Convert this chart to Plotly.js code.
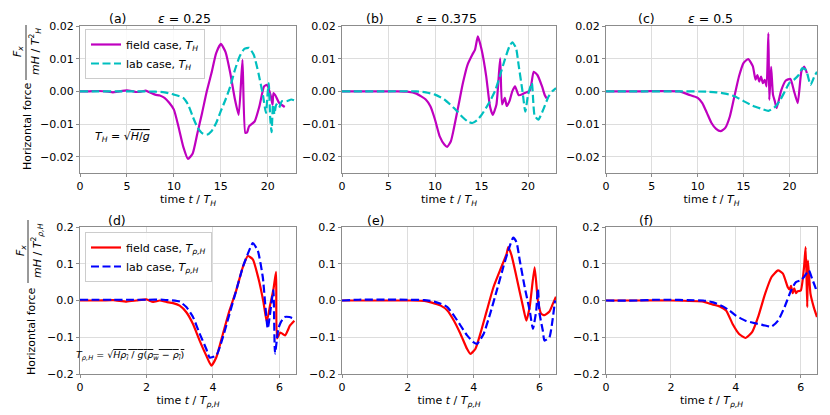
<!DOCTYPE html>
<html>
<head>
<meta charset="utf-8">
<script src="https://cdn.plot.ly/plotly-3.0.1.min.js"></script>
<style>html,body{margin:0;padding:0;background:#fff}#plot{width:830px;height:415px}</style>
</head>
<body>
<div id="plot"></div>
<script>
// ---------- data ----------
// (a) eps = 0.25, time in T_H
const tA_field = [0,1,2,3,3.5,4,5,5.5,6,6.5,7,7.5,8,8.5,9,9.5,10,10.5,11,11.5,12,12.5,13,13.5,14,14.5,15,15.5,16,16.5,16.9,17.3,17.6,17.8,18,18.6,19.1,19.6,19.9,20.3,20.5,20.6,20.8,21.2,21.8];
const fA_field = [0,0,0.0001,-0.0001,-0.0003,-0.0001,0.0003,0.0001,-0.0002,-0.0001,0.0002,-0.0004,-0.001,-0.0013,-0.002,-0.0035,-0.0056,-0.011,-0.017,-0.0207,-0.019,-0.0128,-0.0066,0.0,0.0056,0.0117,0.0145,0.012,0.0056,-0.0025,-0.0072,0.0096,-0.0127,-0.0125,-0.0107,-0.0092,-0.0046,0.0015,0.002,-0.0012,-0.0041,-0.0005,-0.0012,-0.0035,-0.0048];
const tA_lab = [0,2,4,6,8,9,10,11,11.5,12,12.5,13,13.5,14,14.5,15,15.5,16,16.5,17,17.5,18,18.5,19,19.5,19.8,20.0,20.1,20.25,20.4,20.55,20.7,20.9,21.2,21.5,22,22.5,23];
const fA_lab = [0,0,0,0,-0.0001,-0.0003,-0.001,-0.002,-0.004,-0.0077,-0.011,-0.0128,-0.0133,-0.0122,-0.0097,-0.006,-0.0025,0.0015,0.0066,0.0107,0.013,0.0133,0.0112,0.0056,-0.0015,-0.0066,0.0,0.0025,-0.008,-0.0125,-0.004,-0.007,-0.004,-0.005,-0.003,-0.003,-0.0025,-0.003];

// (b) eps = 0.375
const tB_field = [0,2,4,6,7,8,9,9.5,10,10.5,11,11.3,11.7,12,12.5,13,13.5,14,14.3,14.6,15,15.5,15.9,16.2,16.6,17.0,17.2,17.5,17.7,18.0,18.3,18.6,19,19.5,20.2,20.6,21,21.5,21.8,22];
const fB_field = [0,0,0,0,-0.0001,-0.0007,-0.0025,-0.0046,-0.0087,-0.0138,-0.0163,-0.017,-0.0153,-0.0117,-0.0046,0.0026,0.0082,0.0112,0.0128,0.0168,0.0128,0.0046,-0.0046,-0.0072,-0.004,0.0101,-0.004,-0.002,-0.0045,-0.003,0.0,0.0015,-0.0012,-0.0007,0.0003,0.006,0.005,0.0015,-0.0012,-0.0022];
const tB_lab = [0,4,8,9,10,11,12,13,13.5,14,14.5,15,15.5,16,16.5,17,17.5,18,18.3,18.7,19,19.4,19.7,20.0,20.4,20.7,21.1,21.6,22.2,22.6,23];
const fB_lab = [0,0,0,-0.0003,-0.001,-0.0025,-0.005,-0.008,-0.0092,-0.0097,-0.0089,-0.0072,-0.005,-0.0025,0.0005,0.005,0.0097,0.0138,0.015,0.0133,0.0077,0.0,-0.0062,-0.001,0.0025,-0.0074,-0.0087,-0.0058,-0.0016,0.0,0.001];

// (c) eps = 0.5
const tC_field = [0,4,8,9,10,10.5,11,11.5,12,12.5,13,13.5,14,14.5,15,15.5,16,16.3,16.5,16.7,16.9,17.1,17.3,17.5,17.7,17.8,18.0,18.2,18.4,18.6,19.1,19.6,20.1,20.5,20.9,21.3,21.6,21.9];
const fC_field = [0,0,0,-0.001,-0.002,-0.0036,-0.0066,-0.0097,-0.0115,-0.0122,-0.0112,-0.0077,-0.0015,0.0046,0.0087,0.0099,0.0077,0.0036,0.005,0.003,0.0045,0.0025,0.0035,0.0015,0.0178,-0.0026,0.0075,-0.001,-0.003,-0.0051,0.0003,0.0033,0.0038,0.0,-0.0036,0.0061,0.0076,0.0056];
const tC_lab = [0,4,8,11,12,13,14,15,16,17,17.7,18.5,19,19.5,20,20.5,21,21.4,21.8,22.3,22.7,23];
const fC_lab = [0,0,0,-0.0001,-0.0003,-0.0007,-0.0015,-0.003,-0.0044,-0.0054,-0.006,-0.0046,-0.0026,0.0,0.0026,0.0036,0.005,0.0071,0.0065,0.002,0.0045,0.006];

// (d) eps = 0.25, time in T_rho,H
const tD_field = [0,0.5,1,1.4,1.7,2.0,2.2,2.4,2.6,2.8,3.0,3.2,3.4,3.6,3.8,3.95,4.1,4.3,4.5,4.7,4.9,5.05,5.2,5.37,5.52,5.62,5.72,5.82,5.9,5.93,6.03,6.17,6.32,6.45];
const fD_field = [0,0,0.001,-0.003,0.0,0.003,-0.004,0.0,-0.004,-0.007,-0.014,-0.032,-0.064,-0.109,-0.15,-0.177,-0.155,-0.091,-0.027,0.027,0.091,0.121,0.112,0.06,-0.004,-0.058,-0.013,0.03,0.078,-0.103,-0.087,-0.095,-0.068,-0.055];
const tD_lab = [0,0.5,1,1.5,2,2.5,3.0,3.2,3.4,3.6,3.8,3.9,4.1,4.3,4.5,4.7,4.9,5.05,5.2,5.35,5.5,5.65,5.77,5.82,5.87,5.97,6.05,6.15,6.3,6.45];
const fD_lab = [0.002,0.002,0.002,0.002,0.002,0.002,-0.003,-0.018,-0.045,-0.09,-0.132,-0.155,-0.15,-0.1,-0.036,0.027,0.091,0.127,0.156,0.136,0.064,-0.076,0.0,0.028,-0.144,-0.076,-0.058,-0.045,-0.045,-0.05];

// (e) eps = 0.375
const tE_field = [0,1,2,2.5,2.7,3.0,3.2,3.4,3.6,3.8,3.9,4.05,4.2,4.4,4.6,4.8,5.0,5.05,5.15,5.3,5.5,5.6,5.7,5.85,5.95,6.05,6.15,6.3,6.4,6.5];
const fE_field = [0,0,0,-0.001,-0.005,-0.014,-0.027,-0.055,-0.091,-0.132,-0.145,-0.132,-0.091,-0.027,0.036,0.082,0.127,0.145,0.123,0.064,-0.018,-0.055,-0.018,0.09,0.0,-0.036,-0.04,-0.03,-0.01,0.01];
const tE_lab = [0,0.5,2,2.5,2.8,3.0,3.2,3.4,3.6,3.8,4.0,4.1,4.3,4.5,4.7,4.9,5.05,5.2,5.3,5.4,5.55,5.7,5.8,5.9,5.95,6.0,6.1,6.15,6.3,6.4,6.47];
const fE_lab = [0,0.002,0.002,0.001,-0.003,-0.009,-0.018,-0.041,-0.068,-0.095,-0.114,-0.118,-0.091,-0.036,0.027,0.091,0.136,0.171,0.159,0.109,0.036,-0.027,-0.077,-0.027,0.032,-0.036,-0.082,-0.109,-0.1,-0.05,0.0];

// (f) eps = 0.5
const tF_field = [0,1,2,3,3.2,3.5,3.7,3.9,4.1,4.3,4.5,4.7,4.9,5.1,5.3,5.45,5.6,5.65,5.7,5.75,5.8,5.85,5.9,6.0,6.1,6.15,6.2,6.22,6.3,6.4,6.5];
const fF_field = [0,0,0,-0.003,-0.009,-0.016,-0.027,-0.064,-0.091,-0.102,-0.086,-0.041,0.018,0.064,0.082,0.073,0.036,0.03,0.04,0.02,0.033,0.02,0.025,0.027,0.09,0.145,-0.018,0.109,0.018,-0.018,-0.045];
const tF_lab = [0,1,1.5,2,2.5,3.0,3.3,3.6,3.8,4.0,4.3,4.6,4.9,5.1,5.3,5.5,5.7,5.85,6.0,6.1,6.25,6.35,6.45,6.5];
const fF_lab = [0,0,0.002,0.002,0.001,0,-0.005,-0.016,-0.027,-0.041,-0.055,-0.062,-0.068,-0.071,-0.055,-0.018,0.027,0.05,0.055,0.064,0.082,0.059,0.036,0.023];

const panelLetters = ['(a)','(b)','(c)','(d)','(e)','(f)'];
const epsLabels = ['0.25','0.375','0.5'];
const topYTicks = [-0.02,-0.01,0,0.01,0.02];
const botYTicks = [-0.2,-0.1,0,0.1,0.2];
const topXTicks = [0,5,10,15,20];
const botXTicks = [0,2,4,6];

// ---------- layout helpers ----------
const W = 830, H = 415;
const px = v => v / W;
const py = v => 1 - v / H;
const colsPx = [[80,296],[342,556],[606,817]];
const rowsPx = [[26,173],[227,374]];
const FONT = 'DejaVu Sans, sans-serif';

const fieldColors = ['#bf00bf','#ff0000'];
const labColors = ['#00bfbf','#0000ff'];
const legendNames = [
  ['field case, <i>T<sub>H</sub></i>','lab case, <i>T<sub>H</sub></i>'],
  ['field case, <i>T<sub>ρ,H</sub></i>','lab case, <i>T<sub>ρ,H</sub></i>']
];
const series = [
  [tA_field,fA_field,tA_lab,fA_lab],
  [tB_field,fB_field,tB_lab,fB_lab],
  [tC_field,fC_field,tC_lab,fC_lab],
  [tD_field,fD_field,tD_lab,fD_lab],
  [tE_field,fE_field,tE_lab,fE_lab],
  [tF_field,fF_field,tF_lab,fF_lab]
];

const traces = [];
const legendCommon = {xanchor:'left', yanchor:'top',
    bgcolor:'rgba(255,255,255,0.85)', bordercolor:'#cccccc', borderwidth:1,
    font:{family:FONT,size:11,color:'#000'}, tracegroupgap:0, itemwidth:30};
const layout = {
  width: W, height: H,
  margin: {l:0,r:0,t:0,b:0},
  paper_bgcolor: '#fff', plot_bgcolor: '#fff',
  font: {family: FONT, size: 11, color: '#000'},
  showlegend: true,
  legend: Object.assign({x: px(85), y: py(29)}, legendCommon),
  legend2: Object.assign({x: px(85), y: py(232)}, legendCommon),
  annotations: [], shapes: []
};

for (let i = 0; i < 6; i++) {
  const row = i < 3 ? 0 : 1, col = i % 3;
  const xn = i === 0 ? 'x' : 'x' + (i+1);
  const yn = i === 0 ? 'y' : 'y' + (i+1);
  const xk = i === 0 ? 'xaxis' : 'xaxis' + (i+1);
  const yk = i === 0 ? 'yaxis' : 'yaxis' + (i+1);
  const [tf, ff, tl, fl] = series[i];
  const showLeg = (col === 0);
  const legId = row === 0 ? 'legend' : 'legend2';
  traces.push({x: tf, y: ff, xaxis: xn, yaxis: yn, mode: 'lines', name: legendNames[row][0],
    line: {color: fieldColors[row], width: 2.2, shape: 'spline', smoothing: 0.5},
    showlegend: showLeg, legend: legId, hoverinfo:'skip'});
  traces.push({x: tl, y: fl, xaxis: xn, yaxis: yn, mode: 'lines', name: legendNames[row][1],
    line: {color: labColors[row], width: 2.2, dash: '8px,3.5px', shape: 'spline', smoothing: 0.5},
    showlegend: showLeg, legend: legId, hoverinfo:'skip'});

  const common = {showline: true, mirror: true, linecolor: '#8c8c8c', linewidth: 1,
    showgrid: true, gridcolor: '#dddddd', gridwidth: 1, zeroline: false,
    ticks: 'outside', ticklen: 3, tickcolor: '#8c8c8c',
    tickfont: {family: FONT, size: 11, color: '#000'}};
  layout[xk] = Object.assign({}, common, {
    domain: [px(colsPx[col][0]), px(colsPx[col][1])],
    anchor: yn,
    range: row === 0 ? [0, 23] : [0, 6.5],
    tickvals: row === 0 ? topXTicks : botXTicks,
    ticktext: (row === 0 ? topXTicks : botXTicks).map(String),
    title: {text: row === 0 ? 'time <i>t</i> / <i>T<sub>H</sub></i>' : 'time <i>t</i> / <i>T<sub>ρ,H</sub></i>',
      font: {family: FONT, size: 11, color: '#000'}, standoff: 0}
  });
  const yt = row === 0 ? topYTicks : botYTicks;
  layout[yk] = Object.assign({}, common, {
    domain: [py(rowsPx[row][1]), py(rowsPx[row][0])],
    anchor: xn,
    range: row === 0 ? [-0.025, 0.02] : [-0.2, 0.2],
    tickvals: yt,
    ticktext: yt.map(v => (v < 0 ? '−' : '') + Math.abs(v).toFixed(row === 0 ? 2 : 1))
  });

  // panel titles
  const left = colsPx[col][0];
  const titleY = row === 0 ? 18 : 220;
  const letterOff = [37, 33, 40][col];
  layout.annotations.push({xref:'paper', yref:'paper', x: px(left + letterOff), y: py(titleY),
    text: panelLetters[i], showarrow:false, xanchor:'center', yanchor:'middle',
    font:{family:FONT, size:12.5, color:'#000'}});
  if (row === 0) {
    layout.annotations.push({xref:'paper', yref:'paper', x: px(left + 104), y: py(titleY),
      text: '<i>ε</i> = ' + epsLabels[col], showarrow:false, xanchor:'center', yanchor:'middle',
      font:{family:FONT, size:12.5, color:'#000'}});
  }
}

// y-axis labels with fraction
function yLabel(cxText, cyText, numX, lineX, denX, fracCy, fracTop, fracBot, den) {
  layout.annotations.push({xref:'paper', yref:'paper', x: px(cxText), y: py(cyText), text:'Horizontal force',
    textangle:-90, showarrow:false, xanchor:'center', yanchor:'middle', font:{family:FONT,size:11,color:'#000'}});
  layout.annotations.push({xref:'paper', yref:'paper', x: px(numX), y: py(fracCy), text:'<i>F<sub>x</sub></i>',
    textangle:-90, showarrow:false, xanchor:'center', yanchor:'middle', font:{family:FONT,size:11,color:'#000'}});
  layout.annotations.push({xref:'paper', yref:'paper', x: px(denX), y: py(fracCy), text: den,
    textangle:-90, showarrow:false, xanchor:'center', yanchor:'middle', font:{family:FONT,size:11,color:'#000'}});
  layout.shapes.push({type:'line', xref:'paper', yref:'paper', x0: px(lineX), x1: px(lineX), y0: py(fracTop), y1: py(fracBot),
    line:{color:'#000', width:0.8}});
}
yLabel(27, 126, 18, 26, 35, 52, 25, 80, '<i>mH</i> / <i>T</i><sup>2</sup><sub><i>H</i></sub>');
yLabel(31, 331, 21, 28, 37, 251, 220, 283, '<i>mH</i> / <i>T</i><sup>2</sup><sub><i>ρ,H</i></sub>');

// formula annotations
layout.annotations.push({xref:'paper', yref:'paper', x: px(122), y: py(137),
  text: '<i>T<sub>H</sub></i> = √<span style="text-decoration:overline"><i>H</i>/<i>g</i></span>', showarrow:false, xanchor:'center', yanchor:'middle',
  font:{family:FONT,size:11,color:'#000'}});
layout.annotations.push({xref:'paper', yref:'paper', x: px(130), y: py(355),
  text: '<i>T<sub>ρ,H</sub></i> = √<span style="text-decoration:overline"><i>Hρ<sub>i</sub></i> / <i>g</i>(<i>ρ<sub>w</sub></i> − <i>ρ<sub>i</sub></i>)</span>', showarrow:false, xanchor:'center', yanchor:'middle',
  font:{family:FONT,size:9.5,color:'#000'}});

Plotly.newPlot('plot', traces, layout, {staticPlot: true, displayModeBar: false});
</script>
</body>
</html>
